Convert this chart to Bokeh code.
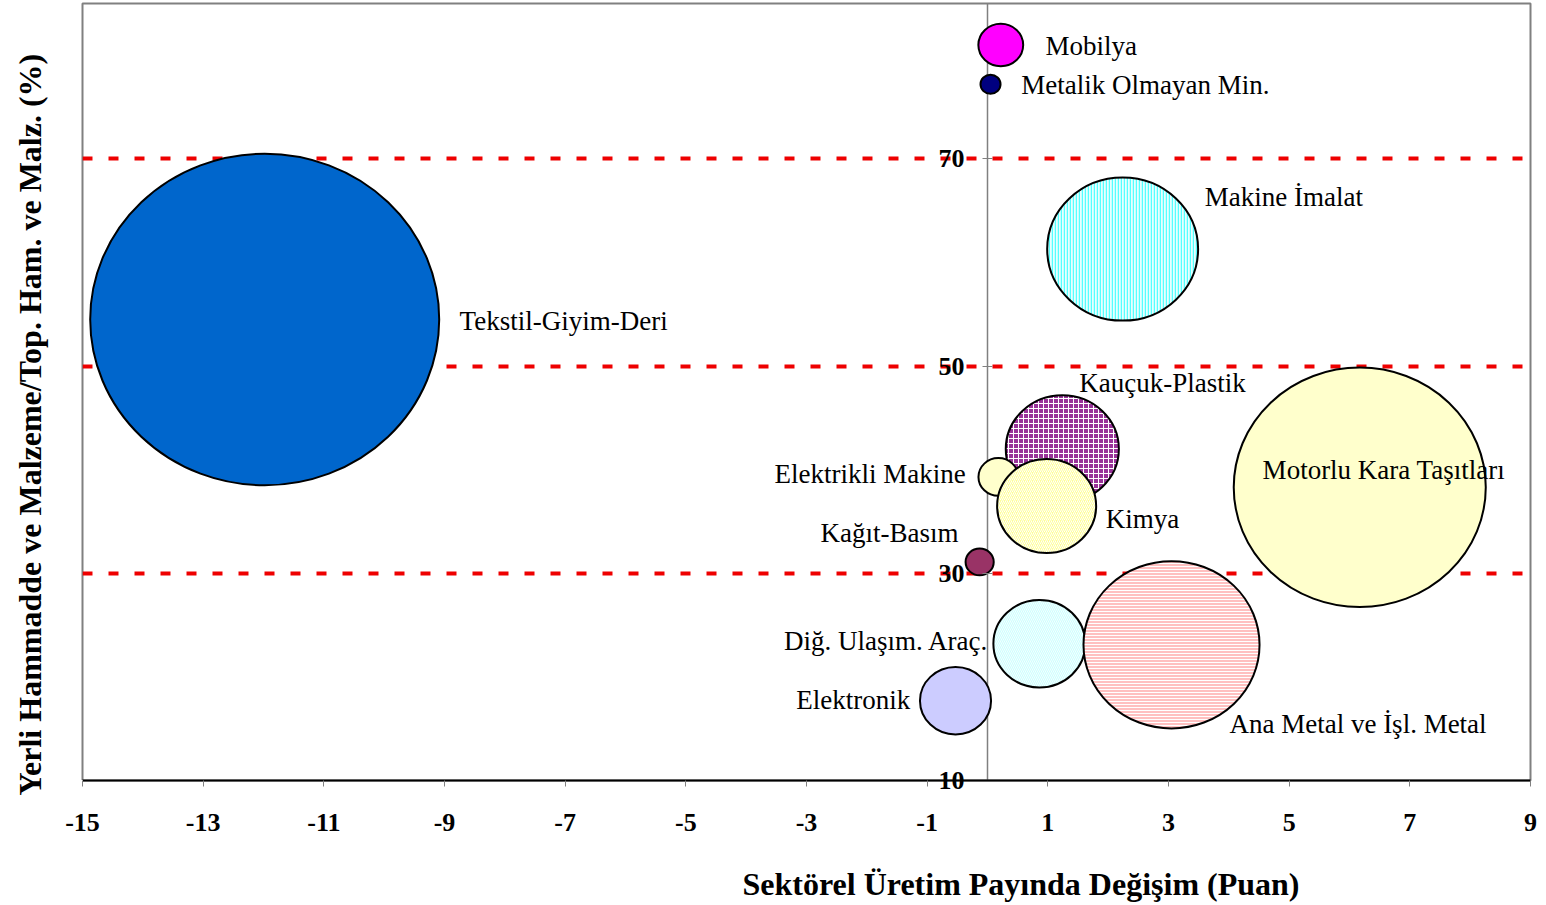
from bokeh.plotting import figure
from bokeh.models import (ColumnDataSource, LinearAxis, FixedTicker, Title, Label)
from bokeh.core.properties import value
from bokeh.embed import file_html
from bokeh.resources import INLINE

# ---- data ----
sectors = ["Tekstil-Giyim-Deri", "Motorlu Kara Taşıtları", "Makine İmalat",
           "Kauçuk-Plastik", "Elektrikli Makine", "Kimya", "Diğ. Ulaşım. Araç.",
           "Ana Metal ve İşl. Metal", "Elektronik", "Kağıt-Basım", "Mobilya",
           "Metalik Olmayan Min."]
share_change = [-11.98, 6.17, 2.24, 1.24, 0.18, 0.98, 0.86, 3.05, -0.53, -0.13, 0.22, 0.05]
local_ratio = [54.5, 38.3, 61.3, 42.0, 39.3, 36.5, 23.2, 23.1, 17.7, 31.1, 81.0, 77.2]
bubble_value = [20.0, 10.43, 3.74, 2.10, 0.26, 1.61, 1.39, 5.09, 0.83, 0.13, 0.33, 0.066]

x_ticks = [-15, -13, -11, -9, -7, -5, -3, -1, 1, 3, 5, 7, 9]
y_ticks = [30, 50, 70]
y_base = 10
ref_lines = [30, 50, 70]

# ---- styles ----
fills = ["#0066CC", "#FFFFCC", "#E8FFFF", "#993399", "#FFFFCC", "#FFFF99",
         "#CCFFFF", "#FFC0C0", "#CCCCFF", "#993366", "#FF00FF", "#000080"]
hatches = [" ", " ", "|", "+", " ", "/", "\\", "-", " ", " ", " ", " "]
hatch_cols = ["#FFFFFF", "#FFFFFF", "#55FFFF", "#FFFFFF", "#FFFFFF", "#FFFFFF",
              "#FFFFFF", "#FFFFFF", "#FFFFFF", "#FFFFFF", "#FFFFFF", "#FFFFFF"]
hatch_sc = [4, 4, 3, 5, 4, 4, 4, 3, 4, 4, 4, 4]
hatch_wt = [1, 1, 1.5, 1, 1, 1, 0.8, 1, 1, 1, 1, 1]
# label anchors (data space) and alignment
lab_x = [-8.75, 4.56, 3.60, 1.52, -0.36, 1.96, 0.02, 4.01, -1.28, -0.48, 0.96, 0.56]
lab_y = [54.35, 39.95, 66.3, 48.36, 39.57, 35.2, 23.43, 15.5, 17.73, 33.86, 80.9, 77.15]
lab_align = ["left", "left", "left", "left", "right", "left", "right", "left",
             "right", "right", "left", "left"]

vmax = max(bubble_value)
diam = [349 * (v / vmax) ** 0.5 for v in bubble_value]
diam_h = [d * 0.95 for d in diam]

src = ColumnDataSource(dict(x=share_change, y=local_ratio, w=diam, h=diam_h,
                            fill=fills, hatch=hatches, hcol=hatch_cols,
                            hsc=hatch_sc, hwt=hatch_wt))
lab_src = ColumnDataSource(dict(x=lab_x, y=lab_y, t=sectors, a=lab_align))

FONT = "Liberation Serif"
X0, X1 = -15, 9
Y0, Y1 = 10, 85

p = figure(width=1538, height=905, x_range=(X0, X1), y_range=(Y0, Y1),
           output_backend="svg", toolbar_location=None,
           min_border_left=82, min_border_right=8, min_border_top=3,
           min_border_bottom=125)
p.background_fill_color = "white"
p.border_fill_color = "white"
p.outline_line_color = "#808080"
p.outline_line_width = 2

# horizontal reference lines and the vertical zero line via grids (under bubbles)
p.xgrid.ticker = FixedTicker(ticks=[0])
p.xgrid.grid_line_color = "#808080"
p.xgrid.grid_line_width = 1.5
p.ygrid.ticker = FixedTicker(ticks=ref_lines)
p.ygrid.grid_line_color = "#EE0000"
p.ygrid.grid_line_width = 4
p.ygrid.grid_line_dash = "10 16"

# bottom axis
xa = p.xaxis[0]
xa.ticker = FixedTicker(ticks=x_ticks)
xa.major_label_overrides = {t: str(t) for t in x_ticks}
xa.axis_line_color = "black"
xa.axis_line_width = 2
xa.major_tick_in = 0
xa.major_tick_out = 6
xa.major_tick_line_color = "#808080"
xa.minor_tick_line_color = None
xa.major_label_text_font = FONT
xa.major_label_text_font_style = "bold"
xa.major_label_text_font_size = "26px"
xa.major_label_text_color = "black"
xa.major_label_standoff = 27

# hide default left axis
p.yaxis[0].visible = False

# axis crossing at x = 0
ya = LinearAxis(fixed_location=0, ticker=FixedTicker(ticks=y_ticks))
ya.axis_line_color = None
ya.major_tick_in = 5
ya.major_tick_out = 5
ya.major_tick_line_color = "#808080"
ya.minor_tick_line_color = None
ya.major_label_text_font = FONT
ya.major_label_text_font_style = "bold"
ya.major_label_text_font_size = "26px"
ya.major_label_text_color = "black"
ya.major_label_standoff = 18
p.add_layout(ya, "left")

# bubbles
p.ellipse(x="x", y="y", width="w", height="h", width_units="screen",
          height_units="screen", source=src, fill_color="fill",
          line_color="black", line_width=2, hatch_pattern="hatch",
          hatch_color="hcol", hatch_scale="hsc", hatch_weight="hwt")

# labels
p.text(x="x", y="y", text="t", text_align="a", text_baseline="middle",
       source=lab_src, text_font=value(FONT), text_font_size="27px",
       text_color="black")

# blank spacer axes (one white tick at the range edge) to push titles outwards
def spacer(size, edge):
    ax = LinearAxis(ticker=FixedTicker(ticks=[edge]), major_tick_out=size,
                    major_tick_in=0, axis_line_color=None,
                    major_tick_line_color="white", minor_tick_line_color=None,
                    major_label_overrides={edge: ""},
                    major_label_standoff=0,
                    major_label_text_font_size="1px")
    return ax

p.add_layout(spacer(43, X0), "below")
p.add_layout(spacer(34, Y0), "left")

# axis titles
xt = Title(text="Sektörel Üretim Payında Değişim (Puan)", align="left",
           offset=660, text_font=FONT, text_font_style="bold",
           text_font_size="32px", text_color="black", standoff=-26)
p.add_layout(xt, "below")
yt = Title(text="Yerli Hammadde ve Malzeme/Top. Ham. ve Malz. (%)", align="left",
           offset=-15, text_font=FONT, text_font_style="bold",
           text_font_size="32px", text_color="black", standoff=2)
p.add_layout(yt, "left")

# base tick label of the crossing axis, sitting on the bottom axis line
p.add_layout(Label(x=0, y=y_base, text=str(y_base), x_offset=-23,
                   text_align="right", text_baseline="middle",
                   text_font=FONT, text_font_style="bold",
                   text_font_size="26px", text_color="black"), "below")

open("out.html", "w").write(file_html(p, INLINE))
